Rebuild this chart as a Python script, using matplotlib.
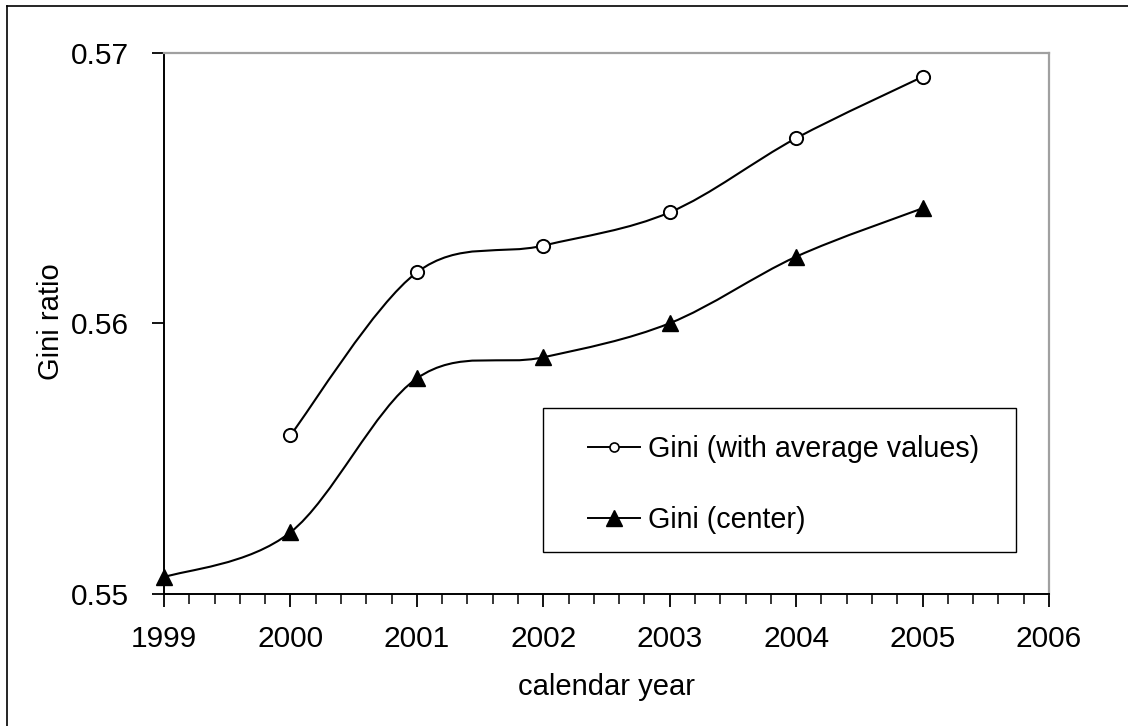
import matplotlib
matplotlib.use("Agg")
import matplotlib.pyplot as plt
from matplotlib.path import Path
from matplotlib.patches import PathPatch, Rectangle
from matplotlib.lines import Line2D
from matplotlib.ticker import MultipleLocator
import numpy as np

plt.rcParams['font.family'] = ['Liberation Sans', 'DejaVu Sans']

years_avg = [2000, 2001, 2002, 2003, 2004, 2005]
gini_avg = [0.55587, 0.56189, 0.56288, 0.56411, 0.56685, 0.56912]
years_center = [1999, 2000, 2001, 2002, 2003, 2004, 2005]
gini_center = [0.55062, 0.55228, 0.55797, 0.55875, 0.56001, 0.56247, 0.56426]
label_avg = "Gini (with average values)"
label_center = "Gini (center)"
x_ticks = [1999, 2000, 2001, 2002, 2003, 2004, 2005, 2006]
y_ticks = [0.55, 0.56, 0.57]

W, H = 1128, 726
fig = plt.figure(figsize=(W / 100, H / 100), dpi=100)
AX_L, AX_R, AX_T, AX_B = 164, 1049, 53, 594
ax = fig.add_axes([AX_L / W, 1 - AX_B / H, (AX_R - AX_L) / W, (AX_B - AX_T) / H])


def fx(px):
    return px / W


def fy(py):
    return 1 - py / H


def smooth_path(xs, ys):
    pts = np.column_stack([xs, ys]).astype(float)
    n = len(pts)
    verts = [pts[0]]
    codes = [Path.MOVETO]
    for i in range(n - 1):
        p0 = pts[i - 1] if i > 0 else pts[i]
        p1 = pts[i]
        p2 = pts[i + 1]
        p3 = pts[i + 2] if i + 2 < n else pts[i + 1]
        c1 = p1 + (p2 - p0) / 6.0
        c2 = p2 - (p3 - p1) / 6.0
        verts += [c1, c2, p2]
        codes += [Path.CURVE4] * 3
    return Path(verts, codes)


for xs, ys in [(years_avg, gini_avg), (years_center, gini_center)]:
    ax.add_patch(PathPatch(smooth_path(xs, ys), facecolor='none',
                           edgecolor='black', lw=1.5, zorder=3, clip_on=False))

ax.plot(years_avg, gini_avg, linestyle='none', marker='o', ms=9.5,
        mfc='white', mec='black', mew=1.4, zorder=4, clip_on=False)
ax.plot(years_center, gini_center, linestyle='none', marker='^', ms=12,
        mfc='black', mec='black', zorder=4, clip_on=False)

ax.set_xlim(1999, 2006)
ax.set_ylim(0.55, 0.57)
ax.set_xticks(x_ticks)
ax.set_xticklabels([str(t) for t in x_ticks])
ax.xaxis.set_minor_locator(MultipleLocator(0.2))
ax.set_yticks(y_ticks)
ax.set_yticklabels([f"{t:.2f}" for t in y_ticks])

ax.tick_params(axis='both', which='major', direction='out', length=9,
               width=1.3, labelsize=21.5, color='black')
ax.tick_params(axis='x', which='major', pad=13)
ax.tick_params(axis='y', which='major', pad=16)
ax.tick_params(axis='x', which='minor', direction='out', length=7,
               width=1.1, color='black')

for side in ['top', 'right']:
    ax.spines[side].set_color('#a0a0a0')
    ax.spines[side].set_linewidth(1.6)
for side in ['left', 'bottom']:
    ax.spines[side].set_color('black')
    ax.spines[side].set_linewidth(1.4)

ax.set_xlabel("calendar year", fontsize=21)
ax.set_ylabel("Gini ratio", fontsize=21)
ax.xaxis.set_label_coords((607 - AX_L) / (AX_R - AX_L), (AX_B - 687) / (AX_B - AX_T))
ax.yaxis.set_label_coords((51 - AX_L) / (AX_R - AX_L), (AX_B - 322) / (AX_B - AX_T))
ax.xaxis.label.set_va('center')
ax.yaxis.label.set_va('center')

# legend frame
fig.add_artist(Rectangle((fx(543), fy(552)), fx(1016) - fx(543), fy(408) - fy(552),
                         transform=fig.transFigure, facecolor='white',
                         edgecolor='black', lw=1.0, zorder=5))

handles = [
    Line2D([0], [0], color='black', lw=1.4, marker='o', ms=6.5, mfc='white',
           mec='black', mew=1.2),
    Line2D([0], [0], color='black', lw=1.4, marker='^', ms=11, mfc='black',
           mec='black'),
]
leg = fig.legend(handles, [label_avg, label_center],
                 loc='upper left', bbox_to_anchor=(fx(588), fy(435)),
                 bbox_transform=fig.transFigure,
                 fontsize=20.6, frameon=False, handlelength=1.82,
                 handletextpad=0.28, labelspacing=1.5, borderpad=0,
                 borderaxespad=0)
leg.set_zorder(6)

# outer chart-area border (left and top visible)
fig.add_artist(Line2D([fx(7), fx(7)], [0, fy(6)], color='black', lw=1.2,
                      transform=fig.transFigure))
fig.add_artist(Line2D([fx(7), 1], [fy(6), fy(6)], color='black', lw=1.2,
                      transform=fig.transFigure))

fig.savefig("out.png", dpi=100, facecolor='white')
